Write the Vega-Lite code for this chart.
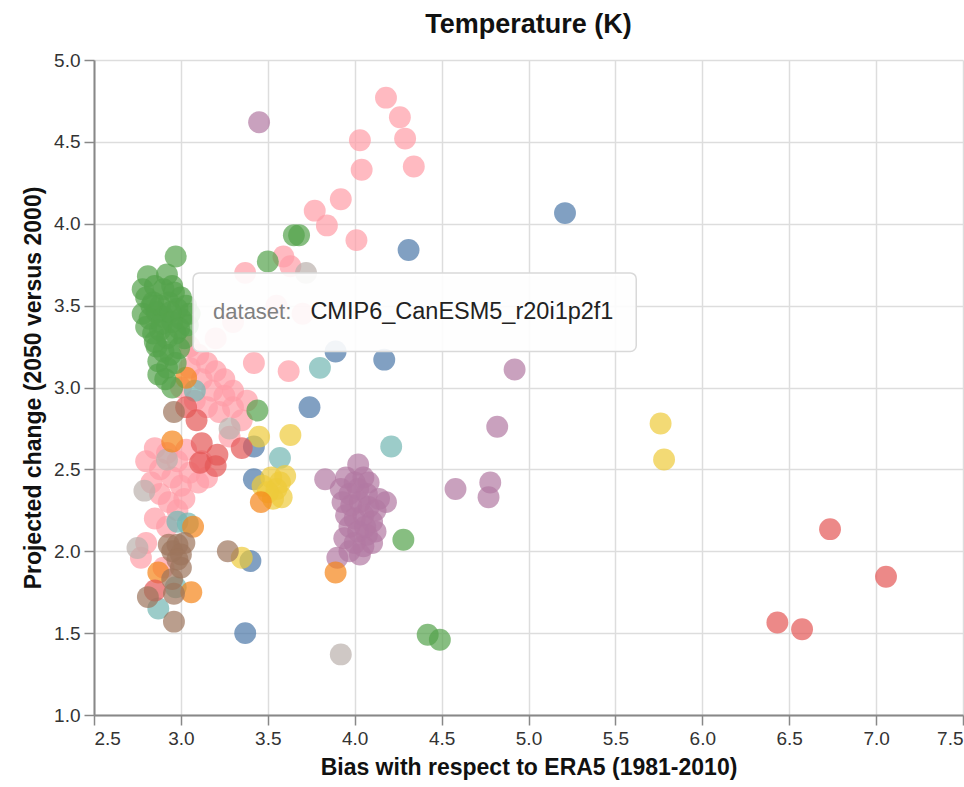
{
  "$schema": "https://vega.github.io/schema/vega-lite/v6.json",
  "width": 869,
  "height": 655,
  "autosize": {"type": "none"},
  "padding": {"left": 94, "top": 60, "right": 1, "bottom": 72},
  "background": "white",
  "title": {"text": "Temperature (K)", "fontSize": 27, "fontWeight": "bold", "offset": 12, "color": "#111"},
  "config": {
    "font": "Liberation Sans",
    "view": {"stroke": null},
    "axis": {
      "labelFontSize": 19,
      "titleFontSize": 23,
      "titleFontWeight": "bold",
      "tickSize": 10,
      "tickWidth": 1.5,
      "labelPadding": 4,
      "titlePadding": 8,
      "gridColor": "#dddddd",
      "gridWidth": 1.5,
      "domainColor": "#888888",
      "domainWidth": 2,
      "tickColor": "#888888",
      "labelColor": "#333333",
      "titleColor": "#111111"
    }
  },
  "layer": [
    {
      "data": {
        "values": [
          {"model": "UKESM1-0-LL", "bias": 4.18, "change": 4.77},
          {"model": "UKESM1-0-LL", "bias": 4.26, "change": 4.65},
          {"model": "UKESM1-0-LL", "bias": 4.29, "change": 4.52},
          {"model": "UKESM1-0-LL", "bias": 4.03, "change": 4.51},
          {"model": "UKESM1-0-LL", "bias": 4.04, "change": 4.33},
          {"model": "UKESM1-0-LL", "bias": 4.34, "change": 4.35},
          {"model": "UKESM1-0-LL", "bias": 3.92, "change": 4.15},
          {"model": "UKESM1-0-LL", "bias": 3.77, "change": 4.08},
          {"model": "UKESM1-0-LL", "bias": 3.84, "change": 3.99},
          {"model": "UKESM1-0-LL", "bias": 4.01, "change": 3.90},
          {"model": "UKESM1-0-LL", "bias": 3.59, "change": 3.80},
          {"model": "UKESM1-0-LL", "bias": 3.63, "change": 3.74},
          {"model": "UKESM1-0-LL", "bias": 3.37, "change": 3.70},
          {"model": "UKESM1-0-LL", "bias": 3.42, "change": 3.15},
          {"model": "UKESM1-0-LL", "bias": 3.62, "change": 3.10},
          {"model": "UKESM1-0-LL", "bias": 3.55, "change": 3.50},
          {"model": "UKESM1-0-LL", "bias": 3.70, "change": 3.45},
          {"model": "UKESM1-0-LL", "bias": 3.20, "change": 3.30},
          {"model": "UKESM1-0-LL", "bias": 3.30, "change": 3.40},
          {"model": "UKESM1-0-LL", "bias": 3.05, "change": 3.25},
          {"model": "UKESM1-0-LL", "bias": 3.10, "change": 3.20},
          {"model": "UKESM1-0-LL", "bias": 3.15, "change": 3.15},
          {"model": "UKESM1-0-LL", "bias": 3.20, "change": 3.10},
          {"model": "UKESM1-0-LL", "bias": 3.25, "change": 3.05},
          {"model": "UKESM1-0-LL", "bias": 3.12, "change": 3.05},
          {"model": "UKESM1-0-LL", "bias": 3.18, "change": 2.98},
          {"model": "UKESM1-0-LL", "bias": 3.25, "change": 2.95},
          {"model": "UKESM1-0-LL", "bias": 3.30, "change": 2.98},
          {"model": "UKESM1-0-LL", "bias": 3.05, "change": 3.12},
          {"model": "UKESM1-0-LL", "bias": 3.00, "change": 3.00},
          {"model": "UKESM1-0-LL", "bias": 3.08, "change": 2.92},
          {"model": "UKESM1-0-LL", "bias": 3.15, "change": 2.88},
          {"model": "UKESM1-0-LL", "bias": 3.22, "change": 2.85},
          {"model": "UKESM1-0-LL", "bias": 3.30, "change": 2.88},
          {"model": "UKESM1-0-LL", "bias": 3.35, "change": 2.80},
          {"model": "UKESM1-0-LL", "bias": 3.28, "change": 2.70},
          {"model": "UKESM1-0-LL", "bias": 3.38, "change": 2.92},
          {"model": "UKESM1-0-LL", "bias": 2.85, "change": 2.63},
          {"model": "UKESM1-0-LL", "bias": 2.80, "change": 2.55},
          {"model": "UKESM1-0-LL", "bias": 2.88, "change": 2.50},
          {"model": "UKESM1-0-LL", "bias": 2.92, "change": 2.60},
          {"model": "UKESM1-0-LL", "bias": 2.98, "change": 2.55},
          {"model": "UKESM1-0-LL", "bias": 3.03, "change": 2.62},
          {"model": "UKESM1-0-LL", "bias": 2.95, "change": 2.45},
          {"model": "UKESM1-0-LL", "bias": 3.00, "change": 2.40},
          {"model": "UKESM1-0-LL", "bias": 3.05, "change": 2.48},
          {"model": "UKESM1-0-LL", "bias": 3.10, "change": 2.42},
          {"model": "UKESM1-0-LL", "bias": 2.83, "change": 2.42},
          {"model": "UKESM1-0-LL", "bias": 2.88, "change": 2.35},
          {"model": "UKESM1-0-LL", "bias": 2.93, "change": 2.30},
          {"model": "UKESM1-0-LL", "bias": 2.98, "change": 2.25},
          {"model": "UKESM1-0-LL", "bias": 2.85, "change": 2.20},
          {"model": "UKESM1-0-LL", "bias": 2.92, "change": 2.15},
          {"model": "UKESM1-0-LL", "bias": 3.02, "change": 2.32},
          {"model": "UKESM1-0-LL", "bias": 3.12, "change": 2.55},
          {"model": "UKESM1-0-LL", "bias": 2.80, "change": 2.05},
          {"model": "UKESM1-0-LL", "bias": 2.77, "change": 1.96},
          {"model": "UKESM1-0-LL", "bias": 2.90, "change": 1.90},
          {"model": "UKESM1-0-LL", "bias": 3.15, "change": 2.45},
          {"model": "MPI-ESM1-2-LR", "bias": 3.45, "change": 4.62},
          {"model": "MPI-ESM1-2-LR", "bias": 4.92, "change": 3.11},
          {"model": "MPI-ESM1-2-LR", "bias": 4.82, "change": 2.76},
          {"model": "MPI-ESM1-2-LR", "bias": 4.58, "change": 2.38},
          {"model": "MPI-ESM1-2-LR", "bias": 4.78, "change": 2.42},
          {"model": "MPI-ESM1-2-LR", "bias": 4.77, "change": 2.33},
          {"model": "MPI-ESM1-2-LR", "bias": 3.83, "change": 2.44},
          {"model": "MPI-ESM1-2-LR", "bias": 4.02, "change": 2.53},
          {"model": "MPI-ESM1-2-LR", "bias": 4.18, "change": 2.30},
          {"model": "MPI-ESM1-2-LR", "bias": 3.90, "change": 1.96},
          {"model": "MPI-ESM1-2-LR", "bias": 3.95, "change": 2.45},
          {"model": "MPI-ESM1-2-LR", "bias": 4.00, "change": 2.42},
          {"model": "MPI-ESM1-2-LR", "bias": 4.05, "change": 2.45},
          {"model": "MPI-ESM1-2-LR", "bias": 4.02, "change": 2.38},
          {"model": "MPI-ESM1-2-LR", "bias": 3.97, "change": 2.35},
          {"model": "MPI-ESM1-2-LR", "bias": 4.07, "change": 2.35},
          {"model": "MPI-ESM1-2-LR", "bias": 3.93, "change": 2.30},
          {"model": "MPI-ESM1-2-LR", "bias": 3.98, "change": 2.28},
          {"model": "MPI-ESM1-2-LR", "bias": 4.03, "change": 2.30},
          {"model": "MPI-ESM1-2-LR", "bias": 4.08, "change": 2.27},
          {"model": "MPI-ESM1-2-LR", "bias": 4.12, "change": 2.25},
          {"model": "MPI-ESM1-2-LR", "bias": 3.95, "change": 2.22},
          {"model": "MPI-ESM1-2-LR", "bias": 4.00, "change": 2.20},
          {"model": "MPI-ESM1-2-LR", "bias": 4.05, "change": 2.22},
          {"model": "MPI-ESM1-2-LR", "bias": 4.10, "change": 2.18},
          {"model": "MPI-ESM1-2-LR", "bias": 3.97, "change": 2.15},
          {"model": "MPI-ESM1-2-LR", "bias": 4.02, "change": 2.12},
          {"model": "MPI-ESM1-2-LR", "bias": 4.07, "change": 2.10},
          {"model": "MPI-ESM1-2-LR", "bias": 4.12, "change": 2.12},
          {"model": "MPI-ESM1-2-LR", "bias": 3.94, "change": 2.08},
          {"model": "MPI-ESM1-2-LR", "bias": 4.00, "change": 2.05},
          {"model": "MPI-ESM1-2-LR", "bias": 4.05, "change": 2.03},
          {"model": "MPI-ESM1-2-LR", "bias": 4.10, "change": 2.05},
          {"model": "MPI-ESM1-2-LR", "bias": 3.97, "change": 2.00},
          {"model": "MPI-ESM1-2-LR", "bias": 4.03, "change": 1.98},
          {"model": "MPI-ESM1-2-LR", "bias": 4.08, "change": 2.42},
          {"model": "MPI-ESM1-2-LR", "bias": 3.92, "change": 2.38},
          {"model": "MPI-ESM1-2-LR", "bias": 4.14, "change": 2.32},
          {"model": "MPI-ESM1-2-LR", "bias": 4.06, "change": 2.15},
          {"model": "NorESM2-LM", "bias": 2.75, "change": 2.02},
          {"model": "NorESM2-LM", "bias": 2.79, "change": 2.37},
          {"model": "NorESM2-LM", "bias": 3.92, "change": 1.37},
          {"model": "NorESM2-LM", "bias": 3.28, "change": 2.75},
          {"model": "NorESM2-LM", "bias": 3.72, "change": 3.70},
          {"model": "NorESM2-LM", "bias": 2.92, "change": 2.56},
          {"model": "ACCESS-CM2", "bias": 5.21, "change": 4.065},
          {"model": "ACCESS-CM2", "bias": 4.31, "change": 3.84},
          {"model": "ACCESS-CM2", "bias": 4.17, "change": 3.17},
          {"model": "ACCESS-CM2", "bias": 3.89, "change": 3.22},
          {"model": "ACCESS-CM2", "bias": 3.74, "change": 2.88},
          {"model": "ACCESS-CM2", "bias": 3.42, "change": 2.44},
          {"model": "ACCESS-CM2", "bias": 3.40, "change": 1.94},
          {"model": "ACCESS-CM2", "bias": 3.37, "change": 1.50},
          {"model": "ACCESS-CM2", "bias": 3.42, "change": 2.64},
          {"model": "MIROC6", "bias": 3.80, "change": 3.12},
          {"model": "MIROC6", "bias": 4.21, "change": 2.64},
          {"model": "MIROC6", "bias": 3.57, "change": 2.57},
          {"model": "MIROC6", "bias": 3.08, "change": 2.98},
          {"model": "MIROC6", "bias": 2.98, "change": 2.18},
          {"model": "MIROC6", "bias": 3.04, "change": 2.17},
          {"model": "MIROC6", "bias": 2.87, "change": 1.65},
          {"model": "MIROC6", "bias": 2.97, "change": 1.78},
          {"model": "EC-Earth3", "bias": 5.76, "change": 2.78},
          {"model": "EC-Earth3", "bias": 5.78, "change": 2.56},
          {"model": "EC-Earth3", "bias": 3.45, "change": 2.70},
          {"model": "EC-Earth3", "bias": 3.63, "change": 2.71},
          {"model": "EC-Earth3", "bias": 3.35, "change": 1.96},
          {"model": "EC-Earth3", "bias": 3.47, "change": 2.40},
          {"model": "EC-Earth3", "bias": 3.52, "change": 2.45},
          {"model": "EC-Earth3", "bias": 3.55, "change": 2.38},
          {"model": "EC-Earth3", "bias": 3.58, "change": 2.33},
          {"model": "EC-Earth3", "bias": 3.60, "change": 2.46},
          {"model": "EC-Earth3", "bias": 3.53, "change": 2.32},
          {"model": "EC-Earth3", "bias": 3.57, "change": 2.42},
          {"model": "EC-Earth3", "bias": 3.50, "change": 2.36},
          {"model": "CESM2", "bias": 3.46, "change": 2.30},
          {"model": "CESM2", "bias": 3.89, "change": 1.87},
          {"model": "CESM2", "bias": 3.06, "change": 1.75},
          {"model": "CESM2", "bias": 3.03, "change": 3.06},
          {"model": "CESM2", "bias": 2.95, "change": 2.67},
          {"model": "CESM2", "bias": 2.87, "change": 1.87},
          {"model": "CESM2", "bias": 3.07, "change": 2.15},
          {"model": "IPSL-CM6A-LR", "bias": 6.735, "change": 2.135},
          {"model": "IPSL-CM6A-LR", "bias": 7.057, "change": 1.844},
          {"model": "IPSL-CM6A-LR", "bias": 6.432, "change": 1.565},
          {"model": "IPSL-CM6A-LR", "bias": 6.574, "change": 1.524},
          {"model": "IPSL-CM6A-LR", "bias": 3.09, "change": 2.80},
          {"model": "IPSL-CM6A-LR", "bias": 3.12, "change": 2.66},
          {"model": "IPSL-CM6A-LR", "bias": 3.11, "change": 2.54},
          {"model": "IPSL-CM6A-LR", "bias": 3.21, "change": 2.59},
          {"model": "IPSL-CM6A-LR", "bias": 3.20, "change": 2.52},
          {"model": "IPSL-CM6A-LR", "bias": 2.85, "change": 1.76},
          {"model": "IPSL-CM6A-LR", "bias": 3.35, "change": 2.63},
          {"model": "IPSL-CM6A-LR", "bias": 3.03, "change": 2.88},
          {"model": "CanESM5", "bias": 2.97, "change": 3.80},
          {"model": "CanESM5", "bias": 2.81, "change": 3.68},
          {"model": "CanESM5", "bias": 2.92, "change": 3.69},
          {"model": "CanESM5", "bias": 2.85, "change": 3.62},
          {"model": "CanESM5", "bias": 2.90, "change": 3.60},
          {"model": "CanESM5", "bias": 2.96, "change": 3.58},
          {"model": "CanESM5", "bias": 3.00, "change": 3.55},
          {"model": "CanESM5", "bias": 2.80, "change": 3.55},
          {"model": "CanESM5", "bias": 2.84, "change": 3.52},
          {"model": "CanESM5", "bias": 2.88, "change": 3.50},
          {"model": "CanESM5", "bias": 2.93, "change": 3.52},
          {"model": "CanESM5", "bias": 2.98, "change": 3.48},
          {"model": "CanESM5", "bias": 3.03, "change": 3.50},
          {"model": "CanESM5", "bias": 2.78, "change": 3.45},
          {"model": "CanESM5", "bias": 2.82, "change": 3.42},
          {"model": "CanESM5", "bias": 2.86, "change": 3.46},
          {"model": "CanESM5", "bias": 2.90, "change": 3.43},
          {"model": "CanESM5", "bias": 2.95, "change": 3.40},
          {"model": "CanESM5", "bias": 3.00, "change": 3.42},
          {"model": "CanESM5", "bias": 3.04, "change": 3.38},
          {"model": "CanESM5", "bias": 2.80, "change": 3.37},
          {"model": "CanESM5", "bias": 2.84, "change": 3.33},
          {"model": "CanESM5", "bias": 2.88, "change": 3.35},
          {"model": "CanESM5", "bias": 2.92, "change": 3.30},
          {"model": "CanESM5", "bias": 2.97, "change": 3.33},
          {"model": "CanESM5", "bias": 3.02, "change": 3.30},
          {"model": "CanESM5", "bias": 2.86, "change": 3.25},
          {"model": "CanESM5", "bias": 2.90, "change": 3.22},
          {"model": "CanESM5", "bias": 2.94, "change": 3.20},
          {"model": "CanESM5", "bias": 2.99, "change": 3.24},
          {"model": "CanESM5", "bias": 2.87, "change": 3.16},
          {"model": "CanESM5", "bias": 2.92, "change": 3.12},
          {"model": "CanESM5", "bias": 2.97, "change": 3.15},
          {"model": "CanESM5", "bias": 2.87, "change": 3.08},
          {"model": "CanESM5", "bias": 2.95, "change": 3.00},
          {"model": "CanESM5", "bias": 2.91, "change": 3.05},
          {"model": "CanESM5", "bias": 2.83, "change": 3.50},
          {"model": "CanESM5", "bias": 2.95, "change": 3.62},
          {"model": "CanESM5", "bias": 3.05, "change": 3.45},
          {"model": "CanESM5", "bias": 2.78, "change": 3.60},
          {"model": "CanESM5", "bias": 2.89, "change": 3.39},
          {"model": "CanESM5", "bias": 2.94, "change": 3.46},
          {"model": "CanESM5", "bias": 2.99, "change": 3.36},
          {"model": "CanESM5", "bias": 2.85, "change": 3.28},
          {"model": "CanESM5", "bias": 3.50, "change": 3.77},
          {"model": "CanESM5", "bias": 3.65, "change": 3.93},
          {"model": "CanESM5", "bias": 3.68, "change": 3.93},
          {"model": "CanESM5", "bias": 3.44, "change": 2.86},
          {"model": "CanESM5", "bias": 4.28, "change": 2.07},
          {"model": "CanESM5", "bias": 4.42, "change": 1.49},
          {"model": "CanESM5", "bias": 4.49, "change": 1.46},
          {"model": "CNRM-CM6-1", "bias": 2.96, "change": 2.85},
          {"model": "CNRM-CM6-1", "bias": 2.98, "change": 2.04},
          {"model": "CNRM-CM6-1", "bias": 2.93, "change": 2.04},
          {"model": "CNRM-CM6-1", "bias": 3.02, "change": 2.05},
          {"model": "CNRM-CM6-1", "bias": 2.95, "change": 2.00},
          {"model": "CNRM-CM6-1", "bias": 3.00, "change": 1.98},
          {"model": "CNRM-CM6-1", "bias": 3.27, "change": 2.00},
          {"model": "CNRM-CM6-1", "bias": 2.95, "change": 1.83},
          {"model": "CNRM-CM6-1", "bias": 2.81, "change": 1.72},
          {"model": "CNRM-CM6-1", "bias": 2.96, "change": 1.57},
          {"model": "CNRM-CM6-1", "bias": 2.96, "change": 1.74},
          {"model": "CNRM-CM6-1", "bias": 3.00, "change": 1.90},
          {"model": "CNRM-CM6-1", "bias": 2.98, "change": 1.95}
        ]
      },
      "mark": {"type": "circle", "size": 480, "opacity": 0.7},
      "encoding": {
        "x": {
          "field": "bias",
          "type": "quantitative",
          "title": "Bias with respect to ERA5 (1981-2010)",
          "scale": {"domain": [2.5, 7.5], "nice": false, "zero": false},
          "axis": {"values": [2.5, 3, 3.5, 4, 4.5, 5, 5.5, 6, 6.5, 7, 7.5], "format": ".1f"}
        },
        "y": {
          "field": "change",
          "type": "quantitative",
          "title": "Projected change (2050 versus 2000)",
          "scale": {"domain": [1, 5], "nice": false, "zero": false},
          "axis": {"values": [1, 1.5, 2, 2.5, 3, 3.5, 4, 4.5, 5], "format": ".1f"}
        },
        "color": {
          "field": "model",
          "type": "nominal",
          "legend": null,
          "scale": {
            "domain": ["ACCESS-CM2", "CESM2", "IPSL-CM6A-LR", "MIROC6", "CanESM5", "EC-Earth3", "MPI-ESM1-2-LR", "UKESM1-0-LL", "CNRM-CM6-1", "NorESM2-LM"],
            "range": ["#4c78a8", "#f58518", "#e45756", "#72b7b2", "#54a24b", "#eeca3b", "#b279a2", "#ff9da6", "#9d755d", "#bab0ac"]
          }
        }
      }
    },
    {
      "data": {"values": [{}]},
      "mark": {"type": "rect", "fill": "black", "fillOpacity": 0.06, "cornerRadius": 6, "xOffset": 2, "yOffset": 3},
      "encoding": {
        "x": {"datum": 3.07, "type": "quantitative"},
        "x2": {"datum": 5.62},
        "y": {"datum": 3.70, "type": "quantitative"},
        "y2": {"datum": 3.22}
      }
    },
    {
      "data": {"values": [{}]},
      "mark": {"type": "rect", "fill": "white", "fillOpacity": 0.9, "stroke": "#d9d9d9", "strokeWidth": 1.5, "cornerRadius": 6},
      "encoding": {
        "x": {"datum": 3.07, "type": "quantitative"},
        "x2": {"datum": 5.62},
        "y": {"datum": 3.70, "type": "quantitative"},
        "y2": {"datum": 3.22}
      }
    },
    {
      "data": {"values": [{}]},
      "mark": {"type": "text", "align": "left", "baseline": "middle", "fontSize": 22, "color": "#808080", "font": "Liberation Sans"},
      "encoding": {
        "x": {"datum": 3.185, "type": "quantitative"},
        "y": {"datum": 3.46, "type": "quantitative"},
        "text": {"value": "dataset:"}
      }
    },
    {
      "data": {"values": [{}]},
      "mark": {"type": "text", "align": "left", "baseline": "middle", "fontSize": 23.5, "color": "#222222", "font": "Liberation Sans"},
      "encoding": {
        "x": {"datum": 3.745, "type": "quantitative"},
        "y": {"datum": 3.46, "type": "quantitative"},
        "text": {"value": "CMIP6_CanESM5_r20i1p2f1"}
      }
    }
  ]
}
